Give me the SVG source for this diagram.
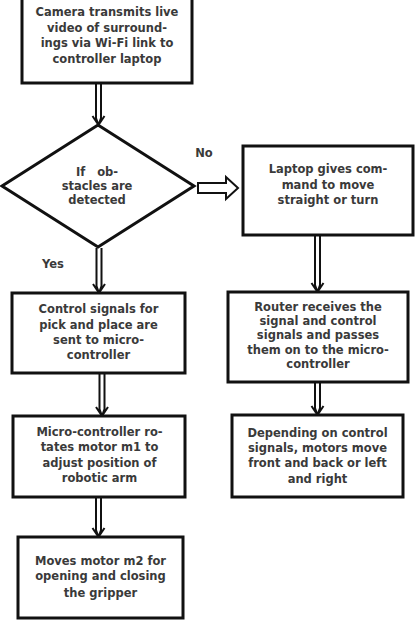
<svg xmlns="http://www.w3.org/2000/svg" width="416" height="626" viewBox="0 0 416 626">
<style>
.box{fill:#fff;stroke:#111;stroke-width:3}
.t{font-family:"DejaVu Sans","Liberation Sans",sans-serif;font-weight:bold;font-size:11.5px;fill:#3a3a3a;text-anchor:middle;white-space:pre}
.dl{fill:none;stroke:#111;stroke-width:2}
</style>
<defs>
<g id="darrow">
<path class="dl" d="M-2.5,0 V-7 L0,0 M2.5,0 V-7 L0,0 M-6,-9 L0,0 L6,-9"/>
</g>
</defs>
<rect width="416" height="626" fill="#fff"/>
<g id="connectors">
<path class="dl" d="M96,84 V118 L98.5,125 M101,84 V118 L98.5,125 M92.5,116 L98.5,125 L104.5,116"/>
<path class="dl" d="M96.5,248 V286 L99,293 M101.5,248 V286 L99,293 M93,284 L99,293 L105,284"/>
<path class="dl" d="M99.5,374 V409 L102,416 M104.5,374 V409 L102,416 M96,407 L102,416 L108,407"/>
<path class="dl" d="M96,498 V530 L98.5,537 M101,498 V530 L98.5,537 M92.5,528 L98.5,537 L104.5,528"/>
<path class="dl" d="M315,236 V285 L317.5,292 M320,236 V285 L317.5,292 M311.5,283 L317.5,292 L323.5,283"/>
<path class="dl" d="M315,383 V408 L317.5,415 M320,383 V408 L317.5,415 M311.5,406 L317.5,415 L323.5,406"/>
<path d="M198,183 H226 V177 L238,188 L226,199 V193 H198 Z" fill="#fff" stroke="#111" stroke-width="2"/>
<text class="t" x="204" y="157">No</text>
<text class="t" x="53" y="268">Yes</text>
</g>
<g id="n1">
<rect class="box" x="22" y="-4" width="170" height="87"/>
<text class="t" x="107" y="16">Camera transmits live</text>
<text class="t" x="107" y="31.5">video of surround-</text>
<text class="t" x="107" y="47">ings via Wi-Fi link to</text>
<text class="t" x="107" y="63">controller laptop</text>
</g>
<g id="n2">
<polygon class="box" points="98,125 194,186 98,247 2,186" stroke-width="2.5"/>
<text class="t" x="97" y="176">If   ob-</text>
<text class="t" x="97" y="190">stacles are</text>
<text class="t" x="97" y="204">detected</text>
</g>
<g id="n3">
<rect class="box" x="243" y="146" width="170" height="89"/>
<text class="t" x="328" y="173">Laptop gives com-</text>
<text class="t" x="328" y="188.5">mand to move</text>
<text class="t" x="328" y="204">straight or turn</text>
</g>
<g id="n4">
<rect class="box" x="12" y="293" width="173" height="80"/>
<text class="t" x="98.5" y="313">Control signals for</text>
<text class="t" x="98.5" y="328.5">pick and place are</text>
<text class="t" x="98.5" y="344">sent to micro-</text>
<text class="t" x="98.5" y="359">controller</text>
</g>
<g id="n5">
<rect class="box" x="228" y="292" width="180" height="90"/>
<text class="t" x="318" y="311">Router receives the</text>
<text class="t" x="318" y="325">signal and control</text>
<text class="t" x="318" y="339">signals and passes</text>
<text class="t" x="318" y="353.5">them on to the micro-</text>
<text class="t" x="318" y="368">controller</text>
</g>
<g id="n6">
<rect class="box" x="13" y="416" width="172" height="81"/>
<text class="t" x="99.5" y="436">Micro-controller ro-</text>
<text class="t" x="99.5" y="451">tates motor m1 to</text>
<text class="t" x="99.5" y="466.5">adjust position of</text>
<text class="t" x="99.5" y="482">robotic arm</text>
</g>
<g id="n7">
<rect class="box" x="232" y="415" width="171" height="82"/>
<text class="t" x="317.5" y="437">Depending on control</text>
<text class="t" x="317.5" y="452">signals, motors move</text>
<text class="t" x="317.5" y="466.5">front and back or left</text>
<text class="t" x="317.5" y="483">and right</text>
</g>
<g id="n8">
<rect class="box" x="18" y="537" width="165" height="81"/>
<text class="t" x="100.5" y="565">Moves motor m2 for</text>
<text class="t" x="100.5" y="580">opening and closing</text>
<text class="t" x="100.5" y="597">the gripper</text>
</g>
</svg>
